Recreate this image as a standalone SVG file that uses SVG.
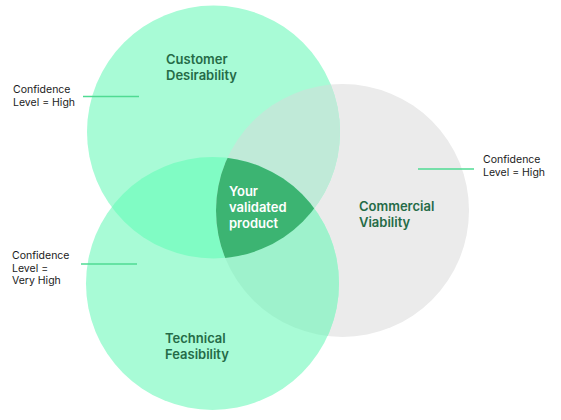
<svg xmlns="http://www.w3.org/2000/svg" width="561" height="420" viewBox="0 0 561 420">
<style>
.lbl{font-family:Inter,"Liberation Sans",sans-serif;font-size:13px;font-weight:600;fill:#256b47}
.in{font-family:Inter,"Liberation Sans",sans-serif;font-size:13px;font-weight:600;fill:#ffffff}
.note{font-family:Inter,"Liberation Sans",sans-serif;font-size:10.5px;font-weight:400;fill:#1a1a1a}
.lead{stroke:#4fdb93;stroke-width:1.3;fill:none}
</style>
<defs>
<clipPath id="cA"><circle cx="213.5" cy="132" r="126.5"/></clipPath>
<clipPath id="cB"><circle cx="212.5" cy="283.5" r="126.5"/></clipPath>
<clipPath id="cC"><circle cx="342.5" cy="210.5" r="126.5"/></clipPath>
</defs>
<rect width="561" height="420" fill="#ffffff"/>
<g id="commercial">
<circle cx="342.5" cy="210.5" r="126.5" fill="#ebebeb"/>
</g>
<g id="customer">
<circle cx="213.5" cy="132" r="126.5" fill="#a8fbd6"/>
</g>
<g id="technical">
<circle cx="212.5" cy="283.5" r="126.5" fill="#a8fbd6"/>
</g>
<g id="overlaps">
<circle cx="212.5" cy="283.5" r="126.5" fill="#80fcc4" clip-path="url(#cA)"/>
<circle cx="213.5" cy="132" r="126.5" fill="#c0ead8" clip-path="url(#cC)"/>
<circle cx="212.5" cy="283.5" r="126.5" fill="#9ef2cc" clip-path="url(#cC)"/>
</g>
<g id="validated">
<g clip-path="url(#cC)"><g clip-path="url(#cB)"><circle cx="213.5" cy="132" r="126.5" fill="#3cb472"/></g></g>
<text class="in" x="229" y="196">Your</text>
<text class="in" x="229" y="212">validated</text>
<text class="in" x="229" y="228">product</text>
</g>
<g id="labels">
<text class="lbl" x="166" y="64">Customer</text>
<text class="lbl" x="166" y="80">Desirability</text>
<text class="lbl" x="359" y="211">Commercial</text>
<text class="lbl" x="359" y="227">Viability</text>
<text class="lbl" x="165" y="343">Technical</text>
<text class="lbl" x="165" y="359">Feasibility</text>
</g>
<g id="connectors">
<line class="lead" x1="83" y1="96.5" x2="139" y2="96.5"/>
<line class="lead" x1="418" y1="169" x2="474" y2="169"/>
<line class="lead" x1="81" y1="264" x2="137" y2="264"/>
</g>
<g id="notes">
<text class="note" x="13" y="93">Confidence</text>
<text class="note" x="13" y="106">Level = High</text>
<text class="note" x="483" y="163">Confidence</text>
<text class="note" x="483" y="176">Level = High</text>
<text class="note" x="12" y="259">Confidence</text>
<text class="note" x="12" y="272">Level =</text>
<text class="note" x="12" y="284">Very High</text>
</g>
</svg>
